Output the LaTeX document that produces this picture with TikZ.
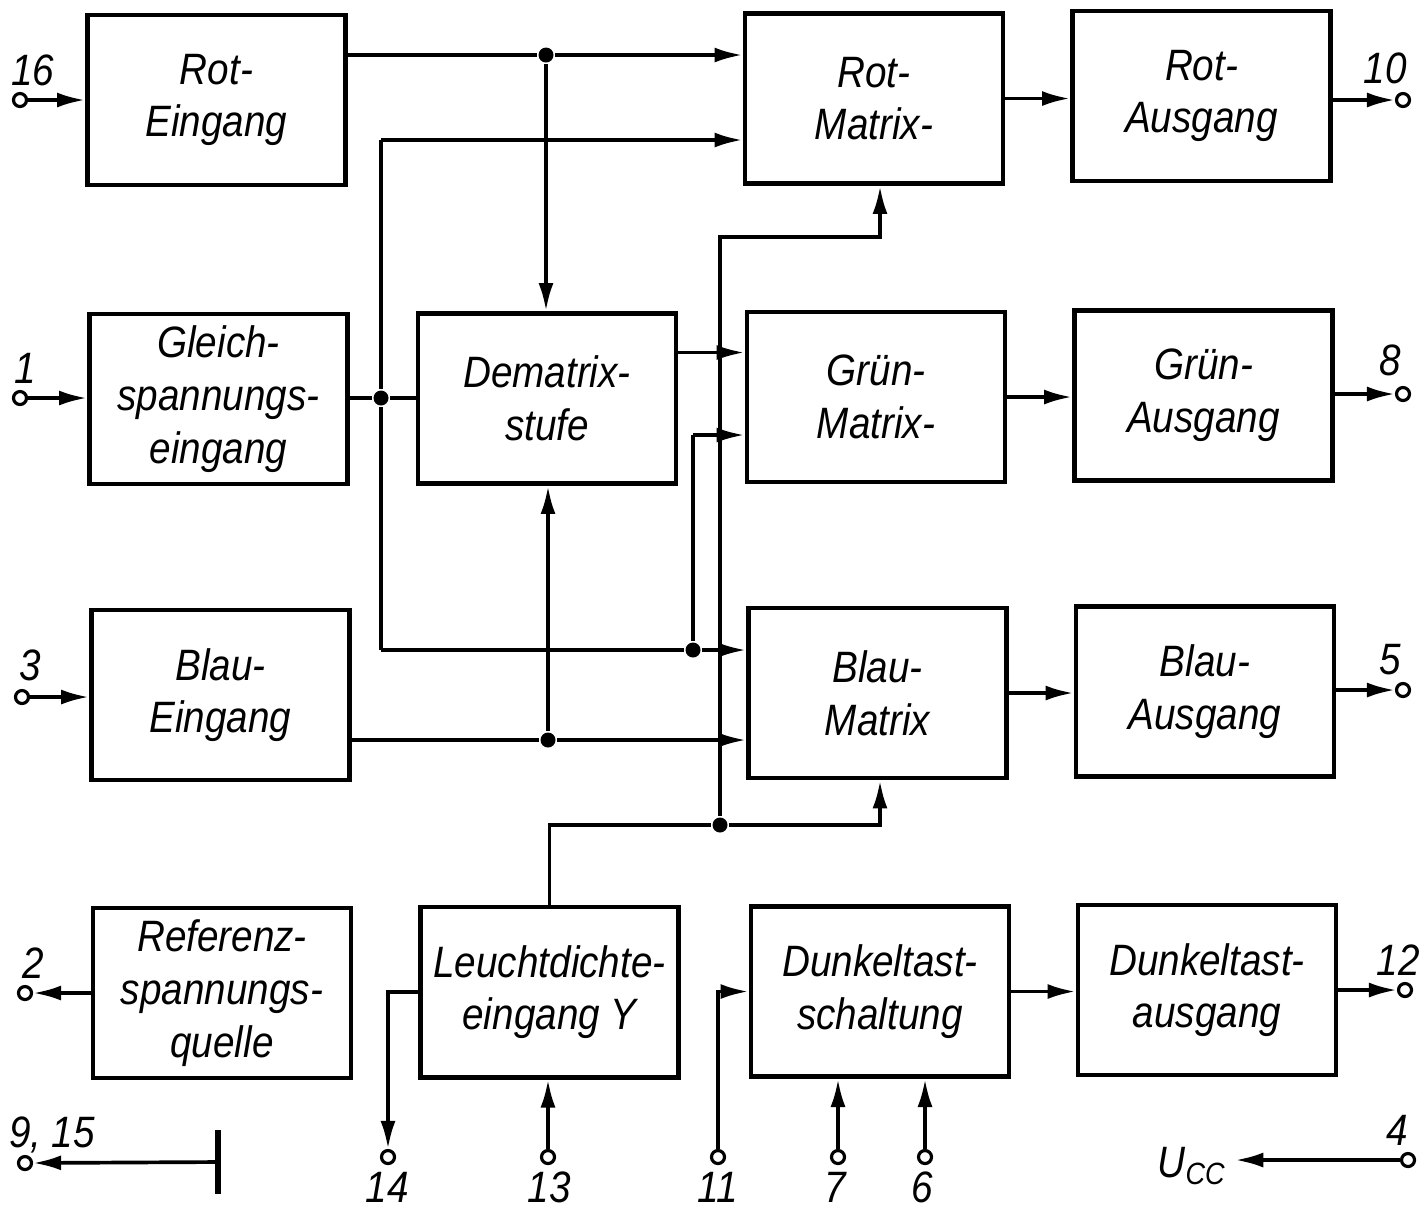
\documentclass[tikz,border=0pt]{standalone}
\usepackage{fontspec}
\setmainfont{Liberation Sans}[FakeStretch=0.88]
\usetikzlibrary{positioning,arrows.meta}

\begin{document}
\begin{tikzpicture}[line width=1.05pt,
    every node/.style={inner sep=2pt, font=\itshape\fontsize{12.5}{15}\selectfont},
    blk/.style={draw, line width=1.4pt, minimum width=2.58cm, minimum height=1.7cm, align=center},
    pin/.style={circle, draw, line width=0.9pt, fill=white, inner sep=0pt, minimum size=0.13cm},
    dot/.style={circle, fill, inner sep=0pt, minimum size=0.15cm},
    >={Latex[length=2.8mm,width=1.5mm]}]
    \useasboundingbox (0,0) rectangle (14.24,-12.11);

    % blocks
    \node[blk] (roteing)  at (2.165,-1.00)  {Rot-\\Eingang};
    \node[blk] (gleich)   at (2.185,-3.99)  {Gleich-\\spannungs-\\eingang};
    \node[blk] (blaueing) at (2.205,-6.95)  {Blau-\\Eingang};
    \node[blk] (referenz) at (2.22,-9.93)   {Referenz-\\spannungs-\\quelle};

    \node[blk] (dematrix) at (5.47,-3.985)  {Dematrix-\\stufe};
    \node[blk] (leucht)   at (5.495,-9.92)  {Leuchtdichte-\\eingang Y};

    \node[blk] (rotmat)   at (8.74,-0.985)  {Rot-\\Matrix-};
    \node[blk] (gruenmat) at (8.76,-3.97)   {Grün-\\Matrix-};
    \node[blk] (blaumat)  at (8.775,-6.93)  {Blau-\\Matrix};
    \node[blk] (dunkel)   at (8.80,-9.915)  {Dunkeltast-\\schaltung};

    \node[blk] (rotaus)   at (12.015,-0.96) {Rot-\\Ausgang};
    \node[blk] (gruenaus) at (12.035,-3.955) {Grün-\\Ausgang};
    \node[blk] (blauaus)  at (12.05,-6.915) {Blau-\\Ausgang};
    \node[blk] (dunkaus)  at (12.07,-9.90)  {Dunkeltast-\\ausgang};

    % pins
    \node[pin] (p16)  at (0.20,-1.00)  {};
    \node[pin] (p1)   at (0.20,-3.98)  {};
    \node[pin] (p3)   at (0.22,-6.97)  {};
    \node[pin] (p2)   at (0.25,-9.93)  {};
    \node[pin] (p915) at (0.25,-11.63) {};
    \node[pin] (p10)  at (14.03,-1.00) {};
    \node[pin] (p8)   at (14.03,-3.94) {};
    \node[pin] (p5)   at (14.03,-6.90) {};
    \node[pin] (p12)  at (14.05,-9.90) {};
    \node[pin] (p4)   at (14.08,-11.60) {};
    \node[pin] (p14)  at (3.88,-11.57) {};
    \node[pin] (p13)  at (5.48,-11.57) {};
    \node[pin] (p11)  at (7.18,-11.57) {};
    \node[pin] (p7)   at (8.38,-11.57) {};
    \node[pin] (p6)   at (9.25,-11.57) {};

    % pin labels
    \node (l16)  at (0.33,-0.70)  {16};
    \node (l1)   at (0.25,-3.68)  {1};
    \node (l3)   at (0.30,-6.65)  {3};
    \node (l2)   at (0.33,-9.63)  {2};
    \node (l915) at (0.52,-11.35) {9, 15};
    \node (l10)  at (13.85,-0.68) {10};
    \node (l8)   at (13.90,-3.60) {8};
    \node (l5)   at (13.90,-6.60) {5};
    \node (l12)  at (13.98,-9.60) {12};
    \node (l4)   at (13.97,-11.30) {4};
    \node[inner sep=0pt] (l14) at (3.87,-11.875) {14};
    \node[inner sep=0pt] (l13) at (5.49,-11.875) {13};
    \node[inner sep=0pt] (l11) at (7.18,-11.875) {11};
    \node[inner sep=0pt] (l7)  at (8.35,-11.875) {7};
    \node[inner sep=0pt] (l6)  at (9.22,-11.875) {6};
    \node (ucc)  at (11.92,-11.66) {U\textsubscript{CC}};

    % junctions
    \node[dot] (j1) at (5.46,-0.55) {};
    \node[dot] (j2) at (3.81,-3.98) {};
    \node[dot] (j3) at (6.93,-6.50) {};
    \node[dot] (j4) at (5.48,-7.40) {};
    \node[dot] (j5) at (7.20,-8.25) {};
    \coordinate (c1) at (3.81,-1.40);
    \coordinate (c2) at (3.81,-6.50);
    \coordinate (c3) at (6.93,-4.35);
    \coordinate (c6) at (8.80,-8.25);
    \coordinate (c7) at (7.20,-2.37);
    \coordinate (c8) at (8.80,-2.37);
    \node[minimum height=0.6cm, minimum width=0pt, inner sep=0pt] (bar) at (2.18,-11.62) {};

    % inputs
    \draw[->] (p16) -- (roteing.west |- p16);
    \draw[->] (p1) -- (gleich.west |- p1);
    \draw[->] (p3) -- (blaueing.west |- p3);
    \draw[->] (referenz.west |- p2) -- (p2);
    \draw[line width=1.6pt] (bar.north) -- (bar.south);
    \draw[->] (bar) -- (p915);

    % red row
    \draw (roteing.east |- j1) -- (j1);
    \draw[->] (j1) -- (rotmat.west |- j1);
    \draw[->] (j1) -- (dematrix.north -| j1);
    \draw[->] (c1) -- (rotmat.west |- c1);
    \draw (c1) -- (j2) -- (c2);

    % green row
    \draw (gleich.east |- j2) -- (j2) -- (dematrix.west |- j2);
    \draw[->] ([yshift=4.6mm]dematrix.east) -- ([yshift=4.6mm]dematrix.east -| gruenmat.west);
    \draw (c2) -- (j3);
    \draw[->] (j3) -- (blaumat.west |- j3);
    \draw (j3) -- (c3);
    \draw[->] (c3) -- (gruenmat.west |- c3);

    % blue row
    \draw (blaueing.east |- j4) -- (j4);
    \draw[->] (j4) -- (blaumat.west |- j4);
    \draw[->] (j4) -- (dematrix.south -| j4);

    % luminance
    \draw (leucht.north) |- (j5);
    \draw[->] (j5) -- (c6) -- (c6 |- blaumat.south);
    \draw[->] (j5) -- (c7) -- (c8) -- (c8 |- rotmat.south);

    % outputs
    \draw[->] (rotmat.east) -- (rotmat.east -| rotaus.west);
    \draw[->] (gruenmat.east) -- (gruenmat.east -| gruenaus.west);
    \draw[->] (blaumat.east) -- (blaumat.east -| blauaus.west);
    \draw[->] (dunkel.east) -- (dunkel.east -| dunkaus.west);
    \draw[->] (rotaus.east |- p10) -- (p10);
    \draw[->] (gruenaus.east |- p8) -- (p8);
    \draw[->] (blauaus.east |- p5) -- (p5);
    \draw[->] (dunkaus.east |- p12) -- (p12);

    % bottom pins
    \draw[->] (leucht.west) -| (p14);
    \draw[->] (p13) -- (p13 |- leucht.south);
    \draw[->] (p11) |- (dunkel.west);
    \draw[->] (p7) -- (p7 |- dunkel.south);
    \draw[->] (p6) -- (p6 |- dunkel.south);
    \draw[->] (p4) -- (ucc.east |- p4);
\end{tikzpicture}
\end{document}
